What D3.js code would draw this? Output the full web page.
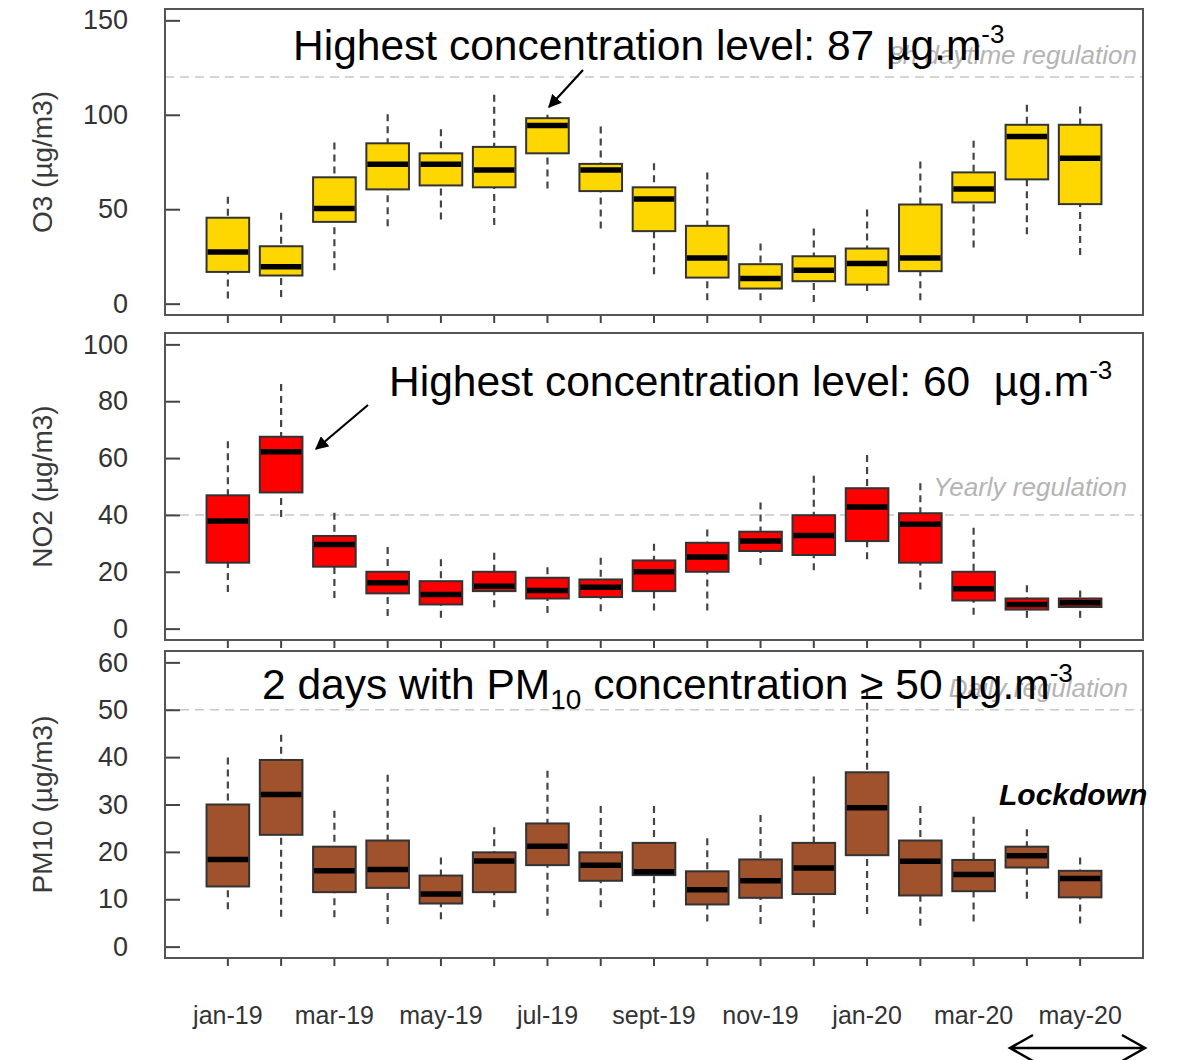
<!DOCTYPE html>
<html>
<head>
<meta charset="utf-8">
<title>O3 / NO2 / PM10 monthly boxplots</title>
<script src="https://d3js.org/d3.v7.min.js"></script>
<style>
  body { margin: 0; background: #fff; }
  svg text { font-family: "Liberation Sans", Arial, sans-serif; }
</style>
</head>
<body>
<script>
// months on the x axis (one box per month)
let months = ["jan-19", "feb-19", "mar-19", "apr-19", "may-19", "jun-19", "jul-19", "aug-19",
  "sept-19", "oct-19", "nov-19", "dec-19", "jan-20", "feb-20", "mar-20", "apr-20", "may-20"]

// only every other month gets a label
let xLabels = ["jan-19", "mar-19", "may-19", "jul-19", "sept-19", "nov-19", "jan-20", "mar-20", "may-20"]

// [lower whisker, q1, median, q3, upper whisker] per month
let o3Stats = [
  [2.7, 16.8, 27.4, 45.5, 56.6], [3.5, 14.9, 19.5, 30.4, 48.1], [17.7, 43.3, 50.4, 66.9, 85.3],
  [41, 60.5, 73.8, 84.9, 100.3], [44.6, 62.6, 73.8, 79.6, 92.4], [41.6, 61.6, 70.8, 83, 110.6],
  [61, 79.6, 94.3, 98.2, 100], [39.8, 59.6, 70.8, 74, 93.8], [15.6, 38.4, 55.4, 61.6, 74.3],
  [1.8, 13.8, 24.2, 41.2, 69.4], [1.8, 8, 13.3, 20.9, 31.8], [0.9, 11.9, 17.7, 25.1, 39.8],
  [6.7, 10.1, 21.2, 29.2, 49.9], [1.8, 17.2, 24.2, 52.5, 75.2], [29.7, 53.6, 60.7, 69.5, 86.3],
  [36.8, 65.8, 88.5, 94.7, 105.3], [25.7, 52.7, 77, 94.7, 104.4]
]
let no2Stats = [
  [12.9, 23.2, 37.9, 46.9, 65.9], [39.3, 47.9, 62.2, 67.5, 86.1], [10.8, 21.8, 29.6, 32.6, 40.8],
  [4.4, 12.4, 16.1, 20, 28.7], [3.8, 8.5, 12, 16.7, 24.4], [7.5, 13.2, 14.9, 20, 26.7],
  [5.5, 10.6, 13.4, 17.9, 21.6], [6.1, 11.1, 14.6, 17.3, 24.9], [6.4, 13.2, 20, 24, 29.9],
  [6.4, 20, 25.2, 30.2, 34.9], [22.4, 27.3, 30.8, 34.1, 44.4], [20.5, 25.9, 32.8, 39.9, 53.8],
  [24.4, 30.8, 42.8, 49.4, 61.1], [13.8, 23.2, 36.7, 40.6, 51.1], [4.9, 9.9, 14, 20, 35.5],
  [3.8, 6.7, 8.5, 10.6, 15.3], [3.8, 7.6, 9.1, 10.6, 13.4]
]
let pm10Stats = [
  [7.9, 12.7, 18.4, 30, 39.9], [6.3, 23.6, 32.1, 39.4, 44.7], [6.2, 11.5, 16, 21.1, 28.7],
  [4.8, 12.4, 16.3, 22.4, 36.3], [5.8, 9.1, 11.1, 15, 18.8], [8.3, 11.5, 18.1, 19.9, 25.2],
  [6.5, 17.2, 21.2, 26, 37.1], [8.3, 13.9, 17.2, 19.9, 29.7], [8.3, 15.1, 15.8, 21.9, 29.7],
  [5.3, 8.9, 12, 15.9, 22.9], [4.8, 10.3, 13.9, 18.4, 27.8], [4.1, 11.1, 16.6, 21.9, 35.9],
  [6.9, 19.3, 29.3, 36.8, 54], [4.4, 10.8, 18, 22.4, 29.7], [5.3, 11.7, 15.2, 18.3, 27.4],
  [10.1, 16.7, 19.2, 21.1, 24.8], [4.9, 10.4, 14.4, 16, 18.8]
]

let o3Ticks = [0, 50, 100, 150]
let no2Ticks = [0, 20, 40, 60, 80, 100]
let pm10Ticks = [0, 10, 20, 30, 40, 50, 60]

// regulation thresholds
let o3Limit = 120
let no2Limit = 40
let pm10Limit = 50

let w = 1180
let h = 1060
let left = 165
let right = 1143

let panels = [
  { stats: o3Stats, ticks: o3Ticks, limit: o3Limit, title: "O3 (µg/m3)", fill: "#ffd700",
    top: 9, bottom: 315, limitText: "8h daytime regulation", limitX: 1137, limitDy: -13 },
  { stats: no2Stats, ticks: no2Ticks, limit: no2Limit, title: "NO2 (µg/m3)", fill: "#ff0000",
    top: 333, bottom: 640, limitText: "Yearly regulation", limitX: 1127, limitDy: -19 },
  { stats: pm10Stats, ticks: pm10Ticks, limit: pm10Limit, title: "PM10 (µg/m3)", fill: "#a0522d",
    top: 651, bottom: 958, limitText: "Daily regulation", limitX: 1128, limitDy: -13 }
]

let svg = d3.select("body")
  .append("svg")
  .attr("width", w)
  .attr("height", h)
  .style("background-color", "white")

let defs = svg.append("defs")
defs.append("marker")
  .attr("id", "head")
  .attr("viewBox", "0 0 10 10")
  .attr("refX", 9)
  .attr("refY", 5)
  .attr("markerWidth", 6)
  .attr("markerHeight", 6)
  .attr("markerUnits", "strokeWidth")
  .attr("orient", "auto")
  .append("path")
  .attr("d", "M0,0 L10,5 L0,10 Z")
  .attr("fill", "black")

let xScale = d3.scaleBand()
  .domain(months)
  .range([left, right])
  .paddingInner(0.2)
  .paddingOuter(0.78)

let bw = xScale.bandwidth()

panels.forEach((p, pi) => {
  let lo = d3.min(p.ticks), hi = d3.max(p.ticks)
  let pad = (hi - lo) * 0.04
  let yScale = d3.scaleLinear()
    .domain([lo - pad, hi + pad])
    .range([p.bottom, p.top])

  let g = svg.append("g").attr("class", "panel")

  // regulation line + label
  g.append("line")
    .attr("x1", left).attr("x2", right)
    .attr("y1", yScale(p.limit)).attr("y2", yScale(p.limit))
    .attr("stroke", "#c8c8c8")
    .attr("stroke-width", 1.6)
    .attr("stroke-dasharray", "9,6")

  g.append("text")
    .attr("x", p.limitX)
    .attr("y", yScale(p.limit) + p.limitDy)
    .attr("text-anchor", "end")
    .attr("font-size", 26)
    .attr("font-style", "italic")
    .attr("fill", "#b4b4b4")
    .text(p.limitText)

  // y axis, ticks drawn inward
  let yAxis = d3.axisLeft(yScale)
    .tickValues(p.ticks)
    .tickSize(-15)
    .tickPadding(37)

  let ya = g.append("g")
    .attr("transform", "translate(" + left + ",0)")
    .call(yAxis)
  ya.select(".domain").remove()
  ya.selectAll(".tick line").attr("stroke", "#444").attr("stroke-width", 2)
  ya.selectAll(".tick text")
    .attr("font-size", 27)
    .attr("font-family", "'Liberation Sans', Arial, sans-serif")
    .attr("fill", "#333")

  // x ticks below each panel
  let xAxis = d3.axisBottom(xScale)
    .tickSize(8)
    .tickPadding(40)
    .tickFormat((d) => (pi == 2 && xLabels.includes(d)) ? d : "")

  let xa = g.append("g")
    .attr("transform", "translate(0," + p.bottom + ")")
    .call(xAxis)
  xa.select(".domain").remove()
  xa.selectAll(".tick line").attr("stroke", "#444").attr("stroke-width", 2)
  xa.selectAll(".tick text")
    .attr("font-size", 25)
    .attr("font-family", "'Liberation Sans', Arial, sans-serif")
    .attr("fill", "#333")

  // y title
  g.append("text")
    .attr("transform", "translate(42," + ((p.top + p.bottom) / 2) + ") rotate(-90)")
    .attr("text-anchor", "middle")
    .attr("dominant-baseline", "central")
    .attr("font-size", 28)
    .attr("fill", "#3a3a3a")
    .text(p.title)

  // boxes
  let boxes = g.selectAll(".box")
    .data(p.stats)
    .enter()
    .append("g")
    .attr("class", "box")

  boxes.append("line")
    .attr("x1", (d, i) => xScale(months[i]) + bw / 2)
    .attr("x2", (d, i) => xScale(months[i]) + bw / 2)
    .attr("y1", (d) => yScale(d[0]))
    .attr("y2", (d) => yScale(d[1]))
    .attr("stroke", "#444")
    .attr("stroke-width", 2.2)
    .attr("stroke-dasharray", "7,5")

  boxes.append("line")
    .attr("x1", (d, i) => xScale(months[i]) + bw / 2)
    .attr("x2", (d, i) => xScale(months[i]) + bw / 2)
    .attr("y1", (d) => yScale(d[4]))
    .attr("y2", (d) => yScale(d[3]))
    .attr("stroke", "#444")
    .attr("stroke-width", 2.2)
    .attr("stroke-dasharray", "7,5")

  boxes.append("rect")
    .attr("x", (d, i) => xScale(months[i]))
    .attr("y", (d) => yScale(d[3]))
    .attr("width", bw)
    .attr("height", (d) => yScale(d[1]) - yScale(d[3]))
    .attr("fill", p.fill)
    .attr("stroke", "#333")
    .attr("stroke-width", 2)

  boxes.append("line")
    .attr("x1", (d, i) => xScale(months[i]) + 1)
    .attr("x2", (d, i) => xScale(months[i]) + bw - 1)
    .attr("y1", (d) => yScale(d[2]))
    .attr("y2", (d) => yScale(d[2]))
    .attr("stroke", "black")
    .attr("stroke-width", 5.5)

  // frame
  g.append("rect")
    .attr("x", left)
    .attr("y", p.top)
    .attr("width", right - left)
    .attr("height", p.bottom - p.top)
    .attr("fill", "none")
    .attr("stroke", "#555")
    .attr("stroke-width", 2)
})

// annotations
let noteSize = 42.5
let supSize = 26

let note1 = svg.append("text")
  .attr("x", 293).attr("y", 60)
  .attr("font-size", noteSize)
  .attr("fill", "black")
  .style("white-space", "pre")
note1.append("tspan").text("Highest concentration level: 87 µg.m")
note1.append("tspan").attr("font-size", supSize).attr("dy", -17).text("-3")

svg.append("line")
  .attr("x1", 583).attr("y1", 70)
  .attr("x2", 549).attr("y2", 107)
  .attr("stroke", "black")
  .attr("stroke-width", 2.2)
  .attr("marker-end", "url(#head)")

let note2 = svg.append("text")
  .attr("x", 389).attr("y", 396)
  .attr("font-size", noteSize)
  .attr("fill", "black")
  .style("white-space", "pre")
note2.append("tspan").text("Highest concentration level: 60  µg.m")
note2.append("tspan").attr("font-size", supSize).attr("dy", -17).text("-3")

svg.append("line")
  .attr("x1", 368).attr("y1", 405)
  .attr("x2", 316).attr("y2", 449)
  .attr("stroke", "black")
  .attr("stroke-width", 2.2)
  .attr("marker-end", "url(#head)")

let note3 = svg.append("text")
  .attr("x", 262).attr("y", 699)
  .attr("font-size", noteSize)
  .attr("fill", "black")
  .style("white-space", "pre")
note3.append("tspan").text("2 days with PM")
note3.append("tspan").attr("font-size", 28).attr("dy", 10).text("10")
note3.append("tspan").attr("dy", -10).text(" concentration ≥ 50 µg.m")
note3.append("tspan").attr("font-size", supSize).attr("dy", -17).text("-3")

svg.append("text")
  .attr("x", 999).attr("y", 805)
  .attr("font-size", 30)
  .attr("font-weight", "bold")
  .attr("font-style", "italic")
  .attr("fill", "black")
  .text("Lockdown")

// lockdown span arrow under the axis
let arrowY = 1048
svg.append("path")
  .attr("d", "M1010," + arrowY + " L1145," + arrowY +
    " M1033," + (arrowY - 13) + " L1010," + arrowY + " L1033," + (arrowY + 13) +
    " M1122," + (arrowY - 13) + " L1145," + arrowY + " L1122," + (arrowY + 13))
  .attr("fill", "none")
  .attr("stroke", "black")
  .attr("stroke-width", 2.5)
</script>
</body>
</html>
